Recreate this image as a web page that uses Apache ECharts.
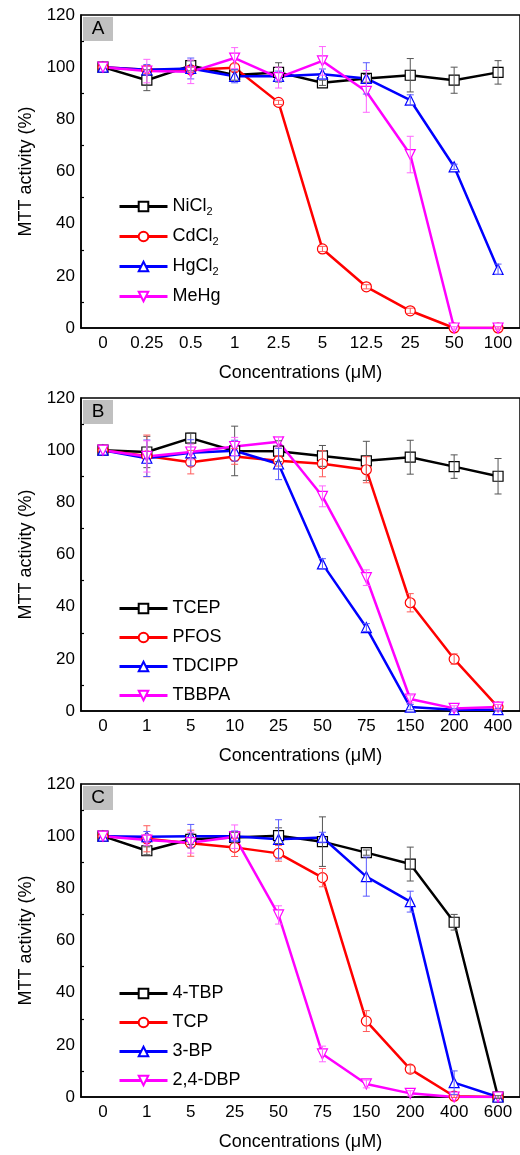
<!DOCTYPE html>
<html>
<head>
	<meta charset="utf-8">
	<title>MTT activity</title>
	<style>
		html,body{margin:0;padding:0;background:#fff;}
		#main{width:520px;height:1155px;}
	</style>
</head>
<body>
<div id="main"></div>
<script type="text/javascript" src="https://cdn.jsdelivr.net/npm/echarts@6/dist/echarts.min.js"></script>
<script type="text/javascript">
	// x categories of the three panels
	var catsA=['0','0.25','0.5','1','2.5','5','12.5','25','50','100'];
	var catsB=['0','1','5','10','25','50','75','150','200','400'];
	var catsC=['0','1','5','25','50','75','150','200','400','600'];

	// panel A
	var namesA=['NiCl2','CdCl2','HgCl2','MeHg'];
	var niCl2=[100,95.0,100.6,97.0,98.0,94.0,95.7,96.9,95.0,98.0];
	var niCl2Err=[0,4,2,2,3.7,1,1.5,6.4,5,4.5];
	var cdCl2=[100,99,99,99.8,86.5,30.3,15.8,6.6,0,0];
	var cdCl2Err=[0,1.5,1,1.5,0.8,1,0.8,1,0,0.5];
	var hgCl2=[100,99,99.5,96.5,96.5,97.3,95.7,87.4,61.8,22.5];
	var hgCl2Err=[0,2,4,2.5,2,2,6,2,1,2];
	var meHg=[100,98.5,98.2,103.5,96.0,102.4,90.7,66.5,0,0];
	var meHgErr=[0,4.5,4.5,4,4,5.5,8,7,0.5,0.5];

	// panel B
	var namesB=['TCEP','PFOS','TDCIPP','TBBPA'];
	var tcep=[100,99.3,104.6,99.7,99.6,97.8,95.9,97.3,93.7,90.0];
	var tcepErr=[0,6,2,9.5,4,4,7.5,6.5,4.5,6.8];
	var pfos=[100,97.8,95.4,97.6,95.9,94.8,92.5,41.5,19.9,1.5];
	var pfosErr=[0,8,4.5,3,2,5,5,3.5,2,1];
	var tdcipp=[100,96.9,99.0,99.8,94.7,56.4,32.0,1.5,0.5,0.5];
	var tdcippErr=[0,7,5,4,6,2,1.5,1,0.5,0.5];
	var tbbpa=[100,97.6,99.3,101.4,103.2,82.3,51.1,4.6,1.0,1.5];
	var tbbpaErr=[0,6,3,3.5,2,4,3,1.5,1,1];

	// panel C
	var namesC=['4-TBP','TCP','3-BP','2,4-DBP'];
	var tbp4=[100,94.4,98.8,99.5,100.2,97.9,93.7,89.3,67.0,0];
	var tbp4Err=[0,1.5,2,2,3,9.5,1,6.5,3,0.5];
	var tcp=[100,99.0,97.3,95.7,93.4,84.1,29.1,10.7,0.3,0];
	var tcpErr=[0,5,5,3.5,3,3.5,4,1.5,0.5,0];
	var bp3=[100,99.8,100,100,98.8,99.5,84.5,74.9,5.5,0];
	var bp3Err=[0,2,4.5,2,7.5,2,7.5,4,4.5,0];
	var dbp24=[100,98.5,97.5,99.8,69.8,16.5,5.0,1.4,0,0];
	var dbp24Err=[0,2,4,4.5,3.5,3,1.5,1,0,0];

	var colors=['#000000','#ff0000','#0000ff','#ff00ff'];
	var errColors=['#555555','#ff5a5a','#5a5aff','#ff66ff'];
	var symbols=['rect','circle','triangle','triangle'];
	var rotates=[0,0,0,180];
	var font='"Liberation Sans", Arial, sans-serif';

	var panels=[
		{label:'A',top:15,cats:catsA,names:namesA,vals:[niCl2,cdCl2,hgCl2,meHg],errs:[niCl2Err,cdCl2Err,hgCl2Err,meHgErr],legendTop:192},
		{label:'B',top:398,cats:catsB,names:namesB,vals:[tcep,pfos,tdcipp,tbbpa],errs:[tcepErr,pfosErr,tdcippErr,tbbpaErr],legendTop:594},
		{label:'C',top:784,cats:catsC,names:namesC,vals:[tbp4,tcp,bp3,dbp24],errs:[tbp4Err,tcpErr,bp3Err,dbp24Err],legendTop:979}
	];
	var gridH=313;

	var grids=[],xAxes=[],yAxes=[],series=[],legends=[],graphics=[];

	function errItem(params,api){
		var i=api.value(0),v=api.value(1),e=api.value(2);
		if(!e) return null;
		var hi=api.coord([i,v+e]);
		var lo=api.coord([i,v-e]);
		var w=3.5;
		var st={stroke:api.visual('color'),lineWidth:1};
		return {type:'group',children:[
			{type:'line',shape:{x1:hi[0],y1:hi[1],x2:lo[0],y2:lo[1]},style:st},
			{type:'line',shape:{x1:hi[0]-w,y1:hi[1],x2:hi[0]+w,y2:hi[1]},style:st},
			{type:'line',shape:{x1:lo[0]-w,y1:lo[1],x2:lo[0]+w,y2:lo[1]},style:st}
		]};
	}

	panels.forEach(function(p,k){
		grids.push({left:81,top:p.top,width:440,height:gridH,show:true,borderColor:'#000',borderWidth:1.5,backgroundColor:'#fff'});
		xAxes.push({
			type:'category',gridIndex:k,data:p.cats,boundaryGap:true,
			name:'Concentrations (μM)',nameLocation:'middle',nameGap:36,
			nameTextStyle:{fontFamily:font,fontSize:18,color:'#000'},
			axisLine:{lineStyle:{color:'#000',width:1.5}},
			axisTick:{inside:true,alignWithLabel:true,length:5,lineStyle:{color:'#000',width:1.5}},
			axisLabel:{fontFamily:font,fontSize:17,color:'#000',margin:7,interval:0},
			splitLine:{show:false}
		});
		yAxes.push({
			type:'value',gridIndex:k,min:0,max:120,interval:20,
			name:'MTT activity (%)',nameLocation:'middle',nameGap:46,
			nameTextStyle:{fontFamily:font,fontSize:18,color:'#000'},
			axisLine:{show:true,lineStyle:{color:'#000',width:1.5}},
			axisTick:{inside:true,length:5,lineStyle:{color:'#000',width:1.5}},
			minorTick:{show:true,splitNumber:2,length:3,lineStyle:{color:'#000',width:1.2}},
			axisLabel:{fontFamily:font,fontSize:17,color:'#000',margin:6},
			splitLine:{show:false}
		});
		p.names.forEach(function(n,j){
			series.push({
				name:n,type:'line',xAxisIndex:k,yAxisIndex:k,
				data:p.vals[j],symbol:symbols[j],symbolRotate:rotates[j],symbolSize:10,
				lineStyle:{color:colors[j],width:2.5},
				itemStyle:{color:'#fff',borderColor:colors[j],borderWidth:1.2},
				z:2
			});
			series.push({
				name:n+' err',type:'custom',xAxisIndex:k,yAxisIndex:k,
				data:p.vals[j].map(function(v,i){return [i,v,p.errs[j][i]];}),
				renderItem:errItem,itemStyle:{color:errColors[j]},z:3,silent:true
			});
		});
		legends.push({
			data:p.names,left:113,top:p.legendTop,orient:'vertical',
			itemWidth:48,itemHeight:12,itemGap:10,
			lineStyle:{width:3},
			textStyle:{fontFamily:font,fontSize:18,color:'#000',lineHeight:19,
				rich:{sub:{fontFamily:font,fontSize:11,color:'#000',padding:[10,0,0,0]}}},
			formatter:function(name){return name.replace(/Cl2$/,'Cl{sub|2}');},
			selectedMode:false
		});
		graphics.push({
			type:'group',left:83,top:p.top+2,children:[
				{type:'rect',shape:{x:0,y:0,width:30,height:24},style:{fill:'#c0c0c0'}},
				{type:'text',x:15,y:12,style:{text:p.label,fontFamily:font,fontSize:19,fill:'#000',align:'center',verticalAlign:'middle'}}
			]
		});
	});

	var myChart=echarts.init(document.getElementById('main'));
	myChart.setOption({
		animation:false,
		backgroundColor:'#fff',
		grid:grids,xAxis:xAxes,yAxis:yAxes,
		legend:legends,
		graphic:graphics,
		series:series
	});
</script>
</body>
</html>
